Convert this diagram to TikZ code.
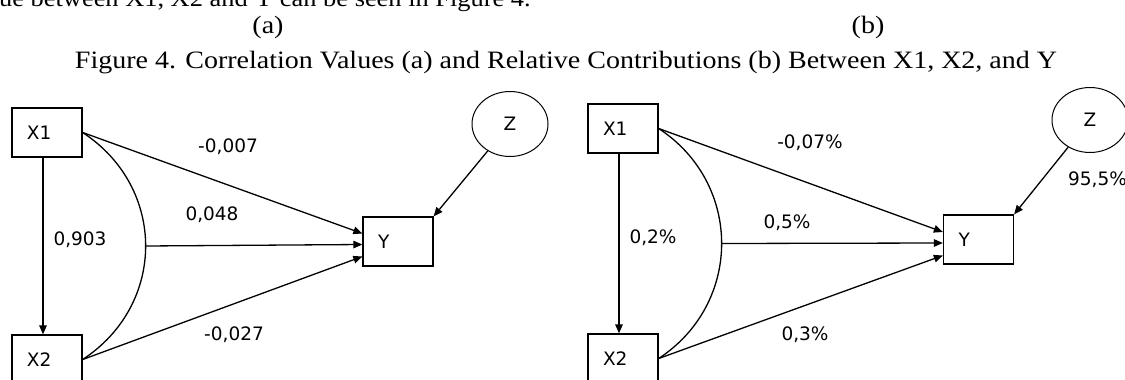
\documentclass[tikz,border=0pt]{standalone}
\usepackage{fontspec}
\setmainfont{Liberation Serif}
\newfontfamily\diagfont{DejaVu Sans}
\usetikzlibrary{arrows.meta, positioning, shapes.geometric}

\newcommand{\stretchtxt}[1]{\scalebox{1.12}[1]{#1}}

\begin{document}
\begin{tikzpicture}[
    x=1pt, y=-1pt,
    >={Triangle[length=9pt, width=7.5pt]},
    font=\diagfont\fontsize{18.5}{22}\selectfont,
    varbox/.style={
        draw, line width=1.3pt, minimum height=49pt,
        text width=40pt, inner xsep=15pt, inner ysep=0pt, align=left,
    },
    latentvar/.style={
        draw, ellipse, line width=1pt, minimum width=76pt, minimum height=65pt,
    },
    arr/.style={->, line width=1.3pt},
    corr/.style={line width=1.3pt},
    lbl/.style={inner sep=1pt},
    captxt/.style={font=\rmfamily\fontsize{25}{30}\selectfont, anchor=base, inner sep=0pt},
    leadtxt/.style={font=\rmfamily\fontsize{24}{28}\selectfont, anchor=base west, inner sep=0pt},
]

\useasboundingbox (0,0) rectangle (1125,380);
\clip (0,0) rectangle (1125,380);

% Captions
\node[leadtxt] (lead) at (-1,6) {\scalebox{1.1}[1]{ue between X1, X2 and Y can be seen in Figure 4.}};
\node[captxt] (tag a) at (268,33) {\stretchtxt{(a)}};
\node[captxt] (tag b) at (868,33) {\stretchtxt{(b)}};
\node[captxt] (caption) at (566,68) {\stretchtxt{Figure 4. Correlation Values (a) and Relative Contributions (b) Between X1, X2, and Y}};

% Panel (a) nodes
\node[varbox] (ax1) at (47,132.5) {X1};
\node[varbox] (ax2) at (47,359.5) {X2};
\node[varbox] (ay) at (398,241.5) {Y};
\node[latentvar] (az) at (510,124) {Z};

% Panel (a) connectors
\draw[arr] ([xshift=-4pt]ax1.south) -- ([xshift=-4pt]ax2.north);
\draw[corr] (ax1.east) .. controls +(84,55) and +(84,-55) .. (ax2.east) coordinate[pos=0.5] (abulge);
\draw[arr] (ax1.east) -- ([yshift=8pt]ay.west);
\draw[arr] (abulge) -- ([yshift=-3pt]ay.west);
\draw[arr] (ax2.east) -- ([yshift=-15pt]ay.west);
\draw[arr] (az) -- (ay.north east);

% Panel (a) values
\node[lbl] (ax1y) at (228,147) {-0,007};
\node[lbl] (ax12y) at (212,215) {0,048};
\node[lbl] (ax1x2) at (80,240) {0,903};
\node[lbl] (ax2y) at (234,335) {-0,027};

% Panel (b) nodes
\node[varbox] (bx1) at (623,128.5) {X1};
\node[varbox] (bx2) at (623,358.5) {X2};
\node[varbox] (by) at (978.5,239.5) {Y};
\node[latentvar] (bz) at (1090,120) {Z};

% Panel (b) connectors
\draw[arr] ([xshift=-4pt]bx1.south) -- ([xshift=-4pt]bx2.north);
\draw[corr] (bx1.east) .. controls +(84,55) and +(84,-55) .. (bx2.east) coordinate[pos=0.5] (bbulge);
\draw[arr] (bx1.east) -- ([yshift=7.5pt]by.west);
\draw[arr] (bbulge) -- ([yshift=-3.5pt]by.west);
\draw[arr] (bx2.east) -- ([yshift=-16pt]by.west);
\draw[arr] (bz) -- (by.north east);

% Panel (b) contributions
\node[lbl] (bx1y) at (810,143) {-0,07\%};
\node[lbl] (bx12y) at (787,223) {0,5\%};
\node[lbl] (bx1x2) at (653,238) {0,2\%};
\node[lbl] (bx2y) at (805,335) {0,3\%};
\node[lbl, anchor=west] (bzy) at (1067,180) {95,5\%};

\end{tikzpicture}
\end{document}
